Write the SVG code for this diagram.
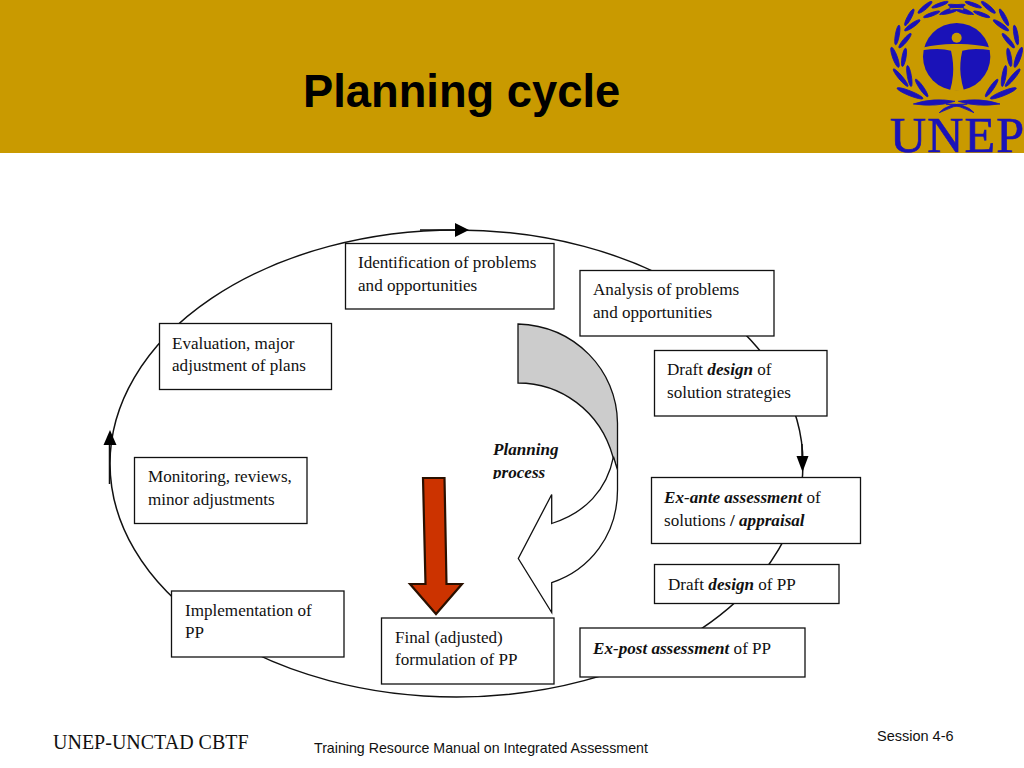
<svg xmlns="http://www.w3.org/2000/svg" xmlns:xlink="http://www.w3.org/1999/xlink" width="1024" height="768" viewBox="0 0 1024 768">
<style>
.box{fill:#fff;stroke:#111;stroke-width:1.3}
.t{font-family:"Liberation Serif","Times New Roman",serif;font-size:17.1px;fill:#111}
.b{font-weight:bold;font-style:italic}
.line{fill:none;stroke:#111;stroke-width:1.5}
.head{fill:#000;stroke:none}
.s{font-family:"Liberation Sans",Arial,sans-serif;font-size:14.2px;fill:#111}
.leaf{fill:#1a12b8;stroke:#1a12b8;stroke-width:2.5}
</style>
<defs>
<clipPath id="pc"><rect x="485" y="435" width="90" height="44"/></clipPath>
<g id="branch" class="leaf">
<ellipse cx="265" cy="35" rx="18" ry="3" transform="rotate(28 265 35)"/>
<ellipse cx="228" cy="18" rx="24" ry="4" transform="rotate(8 228 18)"/>
<ellipse cx="208" cy="36" rx="24" ry="4" transform="rotate(-15 208 36)"/>
<ellipse cx="180" cy="14" rx="26" ry="5" transform="rotate(-20 180 14)"/>
<ellipse cx="155" cy="43" rx="26" ry="5" transform="rotate(-20 155 43)"/>
<ellipse cx="135" cy="22" rx="27" ry="6" transform="rotate(-40 135 22)"/>
<ellipse cx="97" cy="76" rx="28" ry="6" transform="rotate(-35 97 76)"/>
<ellipse cx="88" cy="52" rx="28" ry="6" transform="rotate(-62 88 52)"/>
<ellipse cx="75" cy="122" rx="28" ry="6" transform="rotate(-50 75 122)"/>
<ellipse cx="52" cy="105" rx="30" ry="6" transform="rotate(-80 52 105)"/>
<ellipse cx="72" cy="172" rx="28" ry="6" transform="rotate(-80 72 172)"/>
<ellipse cx="45" cy="172" rx="32" ry="7" transform="rotate(70 45 172)"/>
<ellipse cx="88" cy="228" rx="32" ry="6" transform="rotate(80 88 228)"/>
<ellipse cx="62" cy="233" rx="34" ry="6" transform="rotate(50 62 233)"/>
<ellipse cx="125" cy="264" rx="32" ry="6" transform="rotate(55 125 264)"/>
<ellipse cx="90" cy="280" rx="42" ry="7" transform="rotate(22 90 280)"/>
<path d="M100 312Q160 292 225 304Q170 322 100 312Z"/>
<path d="M178 338Q200 310 262 312Q220 316 178 338Z"/>
</g>
</defs>

<g id="header">
<rect x="0" y="0" width="1024" height="153" fill="#c99a00"/>
<text x="303" y="107" font-family="'Liberation Sans',Arial,sans-serif" font-size="45.300" font-weight="bold" fill="#000">Planning cycle</text>
</g>

<g id="logo">
<g transform="translate(880 0) scale(.3333)">
<use xlink:href="#branch"/>
<use xlink:href="#branch" transform="translate(460 0) scale(-1 1)"/>
<circle cx="230" cy="170" r="101" fill="#1a12b8"/>
<circle cx="230" cy="113" r="15" fill="#c99a00"/>
<path d="M126 143Q185 130 230 132Q275 130 334 143L334 151Q280 143 247 152Q238 190 242 225Q245 250 252 272L210 272Q217 250 219 225Q222 190 213 152Q180 143 126 151Z" fill="#c99a00"/>
</g>
<text x="890" y="152" font-family="'Liberation Serif','Times New Roman',serif" font-size="50" fill="#1a12b8" stroke="#1a12b8" stroke-width=".7" textLength="134" lengthAdjust="spacing">UNEP</text>
</g>

<g id="connectors">
<ellipse cx="456.500" cy="463.500" rx="346.500" ry="233.500" class="line"/>
<path d="M420 230H456M109.500 445V484M802 444V457" class="line"/>
<path class="head" d="M455 223L469 230L455 237Z"/>
<path class="head" d="M103.500 445L110 430L116.500 445Z"/>
<path class="head" d="M796.500 456L808.500 456L802.500 472Z"/>
</g>

<g id="planning-process">
<path d="M518 324C575 326 617 370 617.500 423L617.500 470L613 457C600 410 560 383 518 383Z" fill="#ccc" stroke="#111" stroke-width="1.300"/>
<path d="M613.500 456.700C607 490 585 513 551.700 523.500L551.700 494.500L518.300 558.500L551.700 612.500L551.700 582.700C590 570 617.500 535 617.500 490L617.500 470Z" fill="#fff" stroke="#111" stroke-width="1.300"/>
<g clip-path="url(#pc)"><text class="t b" x="493" y="455">Planning</text><text class="t b" x="493" y="478">process</text></g>
</g>

<g id="red-arrow">
<path d="M423 478H444.500L446.500 584H462L436 614L410 584H425.500Z" fill="#cc3300" stroke="#2a1000" stroke-width="2.200"/>
</g>

<g id="n1"><rect class="box" x="345.500" y="243.500" width="208.500" height="65.500"/><text class="t" x="358" y="268">Identification of problems</text><text class="t" x="358" y="291">and opportunities</text></g>
<g id="n2"><rect class="box" x="580" y="270.500" width="194" height="65.500"/><text class="t" x="593" y="295">Analysis of problems</text><text class="t" x="593" y="318">and opportunities</text></g>
<g id="n3"><rect class="box" x="654.500" y="350.500" width="172.500" height="65.500"/><text class="t" x="667" y="375">Draft <tspan class="b">design </tspan>of</text><text class="t" x="667" y="398">solution strategies</text></g>
<g id="n4"><rect class="box" x="651.500" y="477.500" width="209" height="66"/><text class="t" x="664" y="503"><tspan class="b">Ex-ante assessment </tspan>of</text><text class="t" x="664" y="526">solutions <tspan font-weight="bold">/</tspan> <tspan class="b">appraisal</tspan></text></g>
<g id="n5"><rect class="box" x="654.500" y="564.500" width="184.500" height="39"/><text class="t" x="668" y="590">Draft <tspan class="b">design </tspan>of PP</text></g>
<g id="n6"><rect class="box" x="580" y="628" width="225" height="49"/><text class="t" x="593" y="654"><tspan class="b">Ex-post assessment </tspan>of PP</text></g>
<g id="n7"><rect class="box" x="381.500" y="618" width="172.500" height="66"/><text class="t" x="395" y="643">Final (adjusted)</text><text class="t" x="395" y="665">formulation of PP</text></g>
<g id="n8"><rect class="box" x="171.500" y="591" width="172.500" height="66"/><text class="t" x="185" y="616">Implementation of</text><text class="t" x="185" y="638">PP</text></g>
<g id="n9"><rect class="box" x="134.500" y="457.500" width="172.500" height="66"/><text class="t" x="148" y="482">Monitoring, reviews,</text><text class="t" x="148" y="505">minor adjustments</text></g>
<g id="n10"><rect class="box" x="159.500" y="323.500" width="172" height="66"/><text class="t" x="172" y="349">Evaluation, major</text><text class="t" x="172" y="371">adjustment of plans</text></g>

<g id="footer">
<text x="53" y="749" font-family="'Liberation Serif','Times New Roman',serif" font-size="20" fill="#111">UNEP-UNCTAD CBTF</text>
<text class="s" x="314" y="753">Training Resource Manual on Integrated Assessment</text>
<text class="s" x="877" y="741" style="font-size:14.500px">Session 4-6</text>
</g>
</svg>
